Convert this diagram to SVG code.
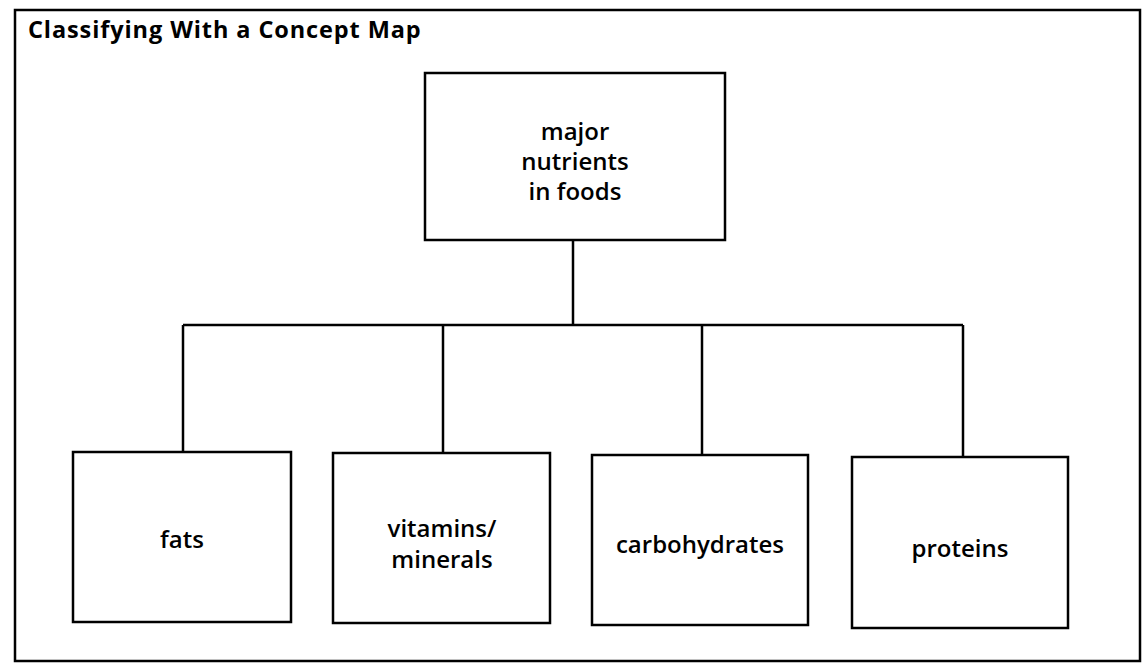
<svg xmlns="http://www.w3.org/2000/svg" width="1143" height="667" viewBox="0 0 1143 667">
<style>
.box{fill:#fff;stroke:#000;stroke-width:2.5}
.con{fill:none;stroke:#000;stroke-width:2.5}
.lbl{font-family:"Open Sans","Liberation Sans",sans-serif;font-weight:600;font-size:24px;fill:#000;text-anchor:middle}
.title{font-family:"Open Sans","Liberation Sans",sans-serif;font-weight:700;font-size:23.5px;letter-spacing:0.9px;fill:#000}
</style>
<rect width="1143" height="667" fill="#fff"/>
<g id="frame">
<rect x="15" y="10" width="1125" height="651" fill="none" stroke="#000" stroke-width="2.5"/>
<text class="title" x="28" y="38">Classifying With a Concept Map</text>
</g>
<g id="connectors">
<path class="con" d="M573 240 V325"/>
<path class="con" d="M183 325 H963"/>
<path class="con" d="M183 325 V452"/>
<path class="con" d="M443 325 V453"/>
<path class="con" d="M702 325 V455"/>
<path class="con" d="M963 325 V457"/>
</g>
<g id="node-major">
<rect class="box" x="425" y="73" width="300" height="167"/>
<text class="lbl" x="575" y="140">major</text>
<text class="lbl" x="575" y="170">nutrients</text>
<text class="lbl" x="575" y="200">in foods</text>
</g>
<g id="node-fats">
<rect class="box" x="73" y="452" width="218" height="170"/>
<text class="lbl" x="182" y="548">fats</text>
</g>
<g id="node-vitamins">
<rect class="box" x="333" y="453" width="217" height="170"/>
<text class="lbl" x="442" y="537">vitamins/</text>
<text class="lbl" x="442" y="568">minerals</text>
</g>
<g id="node-carbohydrates">
<rect class="box" x="592" y="455" width="216" height="170"/>
<text class="lbl" x="700" y="553">carbohydrates</text>
</g>
<g id="node-proteins">
<rect class="box" x="852" y="457" width="216" height="171"/>
<text class="lbl" x="960" y="557">proteins</text>
</g>
</svg>
